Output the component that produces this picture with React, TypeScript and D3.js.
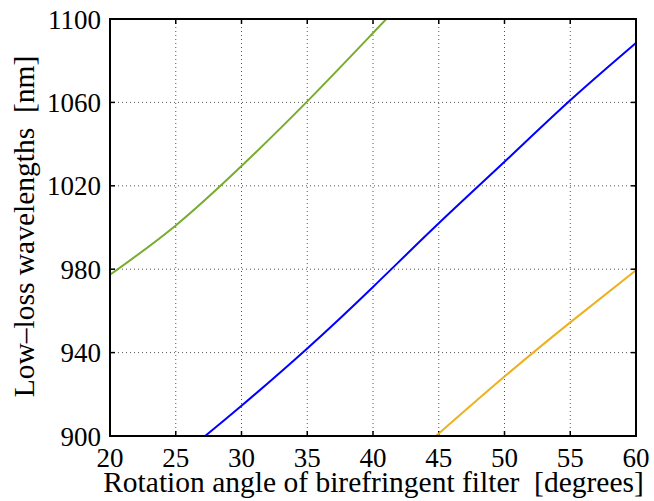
import React from "react";
import * as d3 from "d3";

const xTicks = [20, 25, 30, 35, 40, 45, 50, 55, 60];
const yTicks = [900, 940, 980, 1020, 1060, 1100];

const greenAngle = [20, 25, 30, 35, 40, 41.1];
const greenWave = [977.3, 1001, 1029.5, 1060.5, 1093.3, 1100.5];

const blueAngle = [27.23, 30, 35, 40, 45, 50, 55, 60];
const blueWave = [900, 914.5, 942, 971.5, 1002, 1031.5, 1061, 1088.5];

const yellowAngle = [44.79, 50, 55, 60];
const yellowWave = [900, 928.5, 954.5, 979.5];

const xLabel = "Rotation angle of birefringent filter  [degrees]";
const yLabel = "Low\u2013loss wavelengths  [nm]";

const W = 654;
const H = 501;
const L = 110;
const R = 636;
const T = 19;
const B = 436;

export default function App() {
  const x = d3.scaleLinear().domain([20, 60]).range([L, R]);
  const y = d3.scaleLinear().domain([900, 1100]).range([B, T]);

  const mk = (xs: number[], ys: number[]) =>
    d3
      .line<number>()
      .x((_, i) => x(xs[i]))
      .y((d) => y(d))
      .curve(d3.curveNatural)(ys) || "";

  const series = [
    { xs: greenAngle, ys: greenWave, color: "#77AC30" },
    { xs: blueAngle, ys: blueWave, color: "#0000FF" },
    { xs: yellowAngle, ys: yellowWave, color: "#EDB120" },
  ];

  const font = "'Liberation Serif', 'DejaVu Serif', serif";
  const tickLen = 5;

  return (
    <svg
      width={W}
      height={H}
      style={{ position: "absolute", left: 0, top: 0, background: "#fff" }}
    >
      <defs>
        <clipPath id="plotclip">
          <rect x={L} y={T} width={R - L} height={B - T} />
        </clipPath>
      </defs>
      <rect x={0} y={0} width={W} height={H} fill="#fff" />
      <g stroke="#555" strokeWidth={1} strokeDasharray="1,3">
        {xTicks.slice(1, -1).map((t) => (
          <line key={"gx" + t} x1={x(t)} x2={x(t)} y1={T} y2={B} />
        ))}
        {yTicks.slice(1, -1).map((t) => (
          <line key={"gy" + t} x1={L} x2={R} y1={y(t)} y2={y(t)} />
        ))}
      </g>
      <g stroke="#000" strokeWidth={1.5}>
        {xTicks.map((t) => (
          <g key={"tx" + t}>
            <line x1={x(t)} x2={x(t)} y1={B} y2={B - tickLen} />
            <line x1={x(t)} x2={x(t)} y1={T} y2={T + tickLen} />
          </g>
        ))}
        {yTicks.map((t) => (
          <g key={"ty" + t}>
            <line x1={L} x2={L + tickLen} y1={y(t)} y2={y(t)} />
            <line x1={R} x2={R - tickLen} y1={y(t)} y2={y(t)} />
          </g>
        ))}
      </g>
      <g clipPath="url(#plotclip)" fill="none" strokeWidth={2}>
        {series.map((s, i) => (
          <path key={i} d={mk(s.xs, s.ys)} stroke={s.color} />
        ))}
      </g>
      <rect
        x={L}
        y={T}
        width={R - L}
        height={B - T}
        fill="none"
        stroke="#000"
        strokeWidth={2}
      />
      <g fontFamily={font} fontSize={27} fill="#000">
        {xTicks.map((t) => (
          <text key={"lx" + t} x={x(t)} y={466.5} textAnchor="middle">
            {t}
          </text>
        ))}
        {yTicks.map((t) => (
          <text key={"ly" + t} x={101} y={y(t) + 9.5} textAnchor="end">
            {t}
          </text>
        ))}
      </g>
      <text
        x={(L + R) / 2 + 0.5}
        y={492}
        textAnchor="middle"
        fontFamily={font}
        fontSize={29.5}
        style={{ whiteSpace: "pre" }}
      >
        {xLabel}
      </text>
      <text
        transform={`translate(34,${(T + B) / 2 - 1}) rotate(-90)`}
        textAnchor="middle"
        fontFamily={font}
        fontSize={29.5}
        style={{ whiteSpace: "pre" }}
      >
        {yLabel}
      </text>
    </svg>
  );
}
